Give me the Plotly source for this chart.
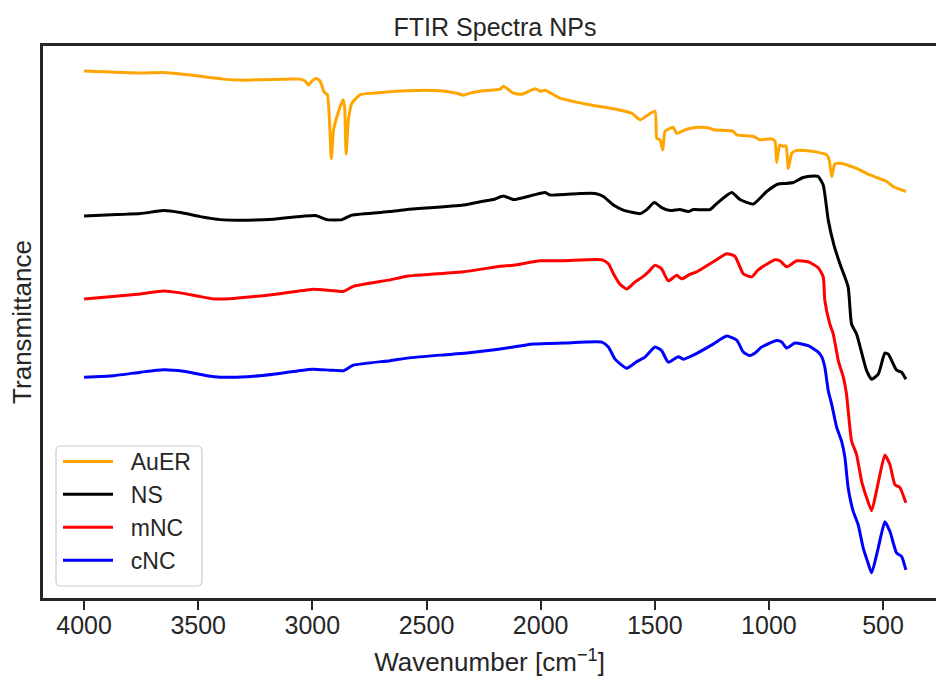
import plotly.graph_objects as go

# FTIR transmittance (arbitrary units, spectra stacked) vs wavenumber [cm^-1]
auer_wn = [4000, 3753, 3653, 3535, 3390, 3316, 3053, 3031, 3017, 3002, 2983, 2966,
           2948, 2934, 2917, 2907, 2885, 2866, 2859, 2852, 2842, 2827, 2790, 2732,
           2586, 2440, 2367, 2338, 2309, 2265, 2177, 2163, 2119, 2082, 2024, 2002,
           1980, 1915, 1798, 1681, 1601, 1564, 1535, 1499, 1491, 1477, 1465, 1455,
           1433, 1419, 1404, 1360, 1302, 1258, 1244, 1156, 1141, 1068, 1039, 988,
           973, 966, 952, 937, 925, 915, 900, 878, 806, 747, 736, 725, 711, 682,
           616, 557, 484, 456, 400]
auer_t = [105.7, 105.3, 105.4, 104.9, 104.1, 103.9, 104.1, 103.7, 102.9, 103.7, 104.2, 103.7,
          101.5, 101.0, 88.3, 94.0, 97.7, 100.0, 98.7, 89.2, 96.0, 99.3, 101.0, 101.3,
          101.8, 101.8, 101.3, 100.9, 101.3, 101.7, 102.1, 102.7, 101.3, 101.1, 102.2, 101.7,
          101.9, 100.3, 99.1, 98.2, 97.3, 96.0, 96.8, 97.7, 92.3, 92.0, 90.0, 93.7,
          94.3, 94.5, 93.3, 94.1, 94.5, 94.3, 94.0, 93.7, 93.0, 92.7, 92.0, 92.2,
          91.7, 87.5, 91.0, 90.7, 90.8, 86.3, 89.3, 89.9, 89.7, 89.0, 88.0, 84.7, 87.2, 87.3,
          86.3, 85.0, 83.7, 82.7, 81.7]

ns_wn = [4000, 3856, 3753, 3652, 3578, 3491, 3403, 3316, 3170, 2987, 2936, 2870,
         2827, 2659, 2586, 2338, 2236, 2207, 2163, 2119, 2032, 1980, 1959, 1827,
         1761, 1725, 1681, 1638, 1564, 1535, 1502, 1470, 1433, 1390, 1353, 1331,
         1258, 1229, 1163, 1127, 1068, 1010, 959, 930, 893, 850, 806, 784, 762,
         740, 715, 689, 653, 638, 616, 572, 550, 521, 492, 477, 441, 419, 400]
ns_t = [76.8, 77.1, 77.3, 77.9, 77.5, 76.7, 76.1, 76.0, 76.2, 76.9, 76.1, 76.1,
        77.0, 77.7, 78.1, 79.0, 79.9, 80.1, 80.8, 80.1, 81.0, 81.5, 81.0, 81.3,
        81.3, 80.7, 79.0, 78.0, 77.3, 78.1, 79.5, 78.5, 77.9, 78.1, 77.7, 78.1,
        78.1, 79.3, 81.5, 80.1, 79.2, 81.7, 83.2, 83.3, 83.5, 84.5, 84.8, 84.7, 83.0,
        76.0, 71.0, 67.3, 62.7, 55.3, 53.3, 46.0, 44.3, 45.3, 49.5, 49.3, 46.1, 45.7, 44.3]

mnc_wn = [4000, 3899, 3753, 3652, 3578, 3505, 3433, 3345, 3170, 3002, 2922, 2863,
          2820, 2659, 2586, 2338, 2177, 2119, 2002, 1900, 1732, 1703, 1681, 1652,
          1623, 1586, 1550, 1528, 1499, 1470, 1441, 1404, 1382, 1346, 1316, 1244,
          1185, 1149, 1112, 1076, 1047, 1010, 973, 952, 922, 878, 828, 784, 762,
          755, 733, 718, 696, 674, 660, 638, 616, 594, 572, 550, 521, 492, 470,
          448, 426, 400]
mnc_t = [60.3, 60.7, 61.3, 61.9, 61.5, 60.9, 60.3, 60.4, 61.2, 62.2, 62.0, 61.8,
         62.8, 64.1, 64.8, 65.7, 66.8, 67.0, 67.9, 67.9, 68.1, 67.3, 65.3, 63.2,
         62.3, 63.7, 64.8, 65.7, 67.0, 66.3, 63.9, 65.0, 64.3, 65.2, 65.7, 67.7,
         69.3, 68.8, 65.3, 64.7, 66.1, 67.2, 68.1, 67.9, 66.7, 67.9, 67.7, 66.5, 64.7,
         60.0, 55.3, 53.3, 48.0, 44.7, 41.3, 32.0, 29.3, 24.0, 20.7, 18.1, 23.7, 29.2, 27.3,
         23.3, 22.7, 19.7]

cnc_wn = [4000, 3870, 3753, 3652, 3564, 3462, 3403, 3286, 3170, 3002, 2922, 2863,
          2820, 2659, 2586, 2440, 2323, 2177, 2032, 1900, 1732, 1703, 1674, 1623,
          1579, 1543, 1499, 1470, 1441, 1397, 1375, 1331, 1244, 1185, 1141, 1112,
          1083, 1061, 1032, 966, 944, 922, 886, 828, 784, 769, 755, 740, 725, 703,
          682, 667, 653, 631, 609, 587, 568, 550, 521, 492, 470, 441, 419, 400]
cnc_t = [44.7, 45.0, 45.7, 46.2, 45.9, 45.0, 44.7, 44.8, 45.3, 46.3, 46.1, 46.0,
         47.1, 48.0, 48.5, 49.1, 49.5, 50.3, 51.3, 51.5, 51.7, 50.7, 48.3, 46.5,
         47.8, 48.7, 50.7, 50.0, 47.7, 48.8, 48.3, 49.1, 51.3, 52.9, 52.1, 49.7,
         49.0, 49.5, 50.7, 52.0, 51.7, 50.5, 51.5, 51.0, 49.7, 48.8, 46.7, 42.0, 39.3, 34.7,
         32.0, 28.7, 22.7, 18.0, 15.3, 10.7, 8.0, 5.7, 10.7, 15.9, 14.0, 9.7, 9.0, 6.3]

sample_names = ["AuER", "NS", "mNC", "cNC"]
sample_colors = ["orange", "black", "red", "blue"]
x_ticks = [4000, 3500, 3000, 2500, 2000, 1500, 1000, 500]

series = [(auer_wn, auer_t), (ns_wn, ns_t), (mnc_wn, mnc_t), (cnc_wn, cnc_t)]

W, H = 936, 678
L, R, T, B = 43, 0, 46, 80
FONT = "Liberation Sans, Arial, sans-serif"
INK = "#262626"
NBSP = "\u00a0"

fig = go.Figure()
for name, color, (wn, tr) in zip(sample_names, sample_colors, series):
    fig.add_trace(go.Scatter(x=wn, y=tr, name=NBSP * 2 + name, mode="lines",
                             line=dict(color=color, width=3, shape="spline", smoothing=0.5)))

# autoscale with 5% padding on y
all_t = [v for _, tr in series for v in tr]
ymin, ymax = min(all_t), max(all_t)
pad = 0.05 * (ymax - ymin)

# rounded legend frame (pixel box converted to paper coordinates)
pw, ph = W - L - R, H - T - B
def px2paper(x, y):
    return (x - L) / pw, (H - B - y) / ph
def P(x, y):
    a, b = px2paper(x, y)
    return f"{a:.5f},{b:.5f}"
bx0, by0, bx1, by1, rr = 56, 446, 202, 586, 5
path = (f"M{P(bx0+rr, by0)} L{P(bx1-rr, by0)} Q{P(bx1, by0)} {P(bx1, by0+rr)} "
        f"L{P(bx1, by1-rr)} Q{P(bx1, by1)} {P(bx1-rr, by1)} "
        f"L{P(bx0+rr, by1)} Q{P(bx0, by1)} {P(bx0, by1-rr)} "
        f"L{P(bx0, by0+rr)} Q{P(bx0, by0)} {P(bx0+rr, by0)} Z")
fig.add_shape(type="path", path=path, xref="paper", yref="paper",
              line=dict(color="#cccccc", width=1.2), fillcolor="rgba(255,255,255,0.8)",
              layer="below")

lx, ly = px2paper(bx0 + 2, by1 - 4)
fig.update_layout(
    width=W, height=H,
    margin=dict(l=L, r=R, t=T, b=B),
    paper_bgcolor="white", plot_bgcolor="white",
    font=dict(family=FONT, color=INK, size=23),
    title=dict(text="FTIR Spectra NPs", font=dict(size=25, color=INK, family=FONT),
               x=495 / W, xref="container", xanchor="center",
               y=1, yref="paper", yanchor="bottom", pad=dict(b=10)),
    showlegend=True,
    legend=dict(x=lx, y=ly, xanchor="left", yanchor="bottom",
                bgcolor="rgba(0,0,0,0)", borderwidth=0,
                font=dict(size=23, color=INK, family=FONT), itemwidth=50,
                tracegroupgap=0),
)
fig.update_xaxes(
    range=[4180, 268], tickvals=x_ticks, ticktext=[str(v) for v in x_ticks],
    showgrid=False, zeroline=False,
    showline=True, linecolor=INK, linewidth=2.6, mirror=True,
    ticks="outside", ticklen=9, tickwidth=2.4, tickcolor=INK,
    ticklabelstandoff=-6,
    tickfont=dict(size=25, color=INK, family=FONT),
    title=dict(text="Wavenumber [cm<sup>\u22121</sup>]", font=dict(size=26, color=INK, family=FONT),
               standoff=16),
)
fig.update_yaxes(
    range=[ymin - pad, ymax + pad], showticklabels=False, ticks="",
    showgrid=False, zeroline=False,
    showline=True, linecolor=INK, linewidth=2.6, mirror=False,
    title=dict(text="Transmittance", font=dict(size=26, color=INK, family=FONT), standoff=2),
)

fig.write_html("out.html")
